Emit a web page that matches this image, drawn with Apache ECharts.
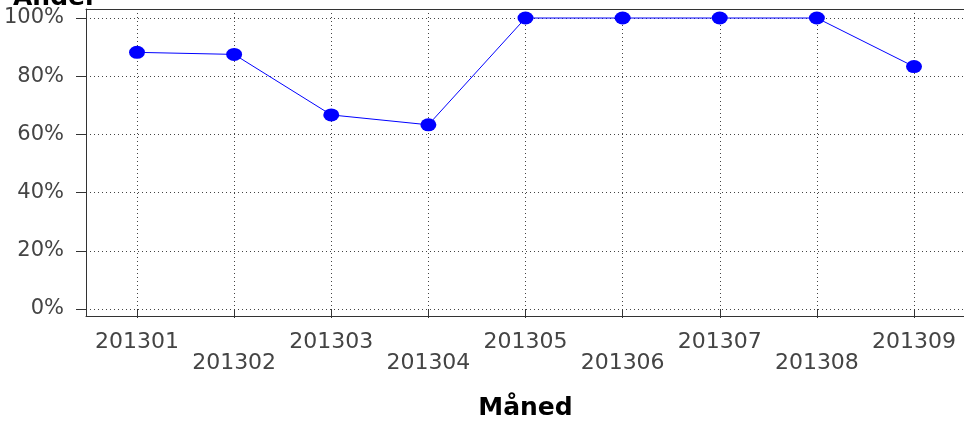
<!DOCTYPE html>
<html>
<head>
    <meta charset="utf-8">
    <title>Andel per måned</title>
    <script src="https://cdn.jsdelivr.net/npm/echarts@6/dist/echarts.min.js"></script>
    <style>
        html, body { margin: 0; padding: 0; background: #fff; overflow: hidden; }
    </style>
</head>
<body>
<div id="container" style="width: 964px;height: 428px;"></div>

<script type="text/javascript">
    // måneder
    var months = ['201301', '201302', '201303', '201304', '201305', '201306', '201307', '201308', '201309'];
    // andel i prosent
    var shares = [88.2, 87.5, 66.7, 63.3, 100, 100, 100, 100, 83.3];
    // y-akse
    var yMin = 0;
    var yMax = 100;
    var yStep = 20;

    var font = 'DejaVu Sans';
    var dotted = { color: '#444', width: 1, type: [1, 3] };
    var frameLine = { show: true, lineStyle: { color: '#333', width: 1 } };

    var myChart = echarts.init(document.getElementById('container'));

    var option = {
        animation: false,
        // y-aksens tittel, delvis utenfor bildet som i originalen
        graphic: [
            {
                type: 'text',
                x: 13,
                y: 11,
                style: {
                    text: 'Andel',
                    font: 'bold 25px "DejaVu Sans"',
                    fill: '#000',
                    align: 'left',
                    verticalAlign: 'bottom'
                }
            }
        ],
        grid: [
            // data
            { left: 137, right: 50, top: 9, bottom: 112, outerBoundsMode: 'none' },
            // y-akse og horisontale linjer
            { left: 86, right: 0, top: 18, bottom: 119, outerBoundsMode: 'none' },
            // ramme (ingen høyre kant)
            { left: 86, right: 0, top: 9, bottom: 112, outerBoundsMode: 'none' }
        ],
        xAxis: [
            {
                gridIndex: 0,
                type: 'category',
                data: months,
                boundaryGap: false,
                name: 'Måned',
                nameLocation: 'middle',
                nameGap: 80,
                nameTextStyle: { fontFamily: font, fontSize: 25, fontWeight: 'bold', color: '#000' },
                axisLine: { show: false },
                axisTick: { show: true, length: 9, lineStyle: { color: '#333' } },
                axisLabel: {
                    interval: 0,
                    margin: 16,
                    fontFamily: font,
                    fontSize: 22,
                    lineHeight: 21,
                    color: '#444',
                    formatter: function (v, i) {
                        return i % 2 ? '\n' + v : v;
                    }
                },
                splitLine: { show: true, lineStyle: dotted }
            },
            { gridIndex: 1, type: 'value', show: false },
            {
                gridIndex: 2, type: 'value', position: 'bottom',
                axisLine: frameLine, axisTick: { show: false }, axisLabel: { show: false }, splitLine: { show: false }
            },
            {
                gridIndex: 2, type: 'value', position: 'top',
                axisLine: frameLine, axisTick: { show: false }, axisLabel: { show: false }, splitLine: { show: false }
            }
        ],
        yAxis: [
            {
                gridIndex: 0,
                type: 'value',
                show: false,
                min: -2.41,
                max: 103.1
            },
            {
                gridIndex: 1,
                type: 'value',
                min: yMin,
                max: yMax,
                interval: yStep,
                axisLine: { show: false },
                axisTick: { show: true, length: 10, lineStyle: { color: '#333' } },
                axisLabel: {
                    margin: 22,
                    fontFamily: font,
                    fontSize: 21,
                    color: '#444',
                    formatter: '{value}%'
                },
                splitLine: { show: true, lineStyle: dotted }
            },
            {
                gridIndex: 2, type: 'value', position: 'left',
                axisLine: frameLine, axisTick: { show: false }, axisLabel: { show: false }, splitLine: { show: false }
            }
        ],
        series: [
            {
                type: 'line',
                xAxisIndex: 0,
                yAxisIndex: 0,
                data: shares,
                symbol: 'circle',
                symbolSize: [16, 13],
                lineStyle: { color: '#0000ff', width: 1 },
                itemStyle: { color: '#0000ff' }
            }
        ]
    };

    myChart.setOption(option);
</script>
</body>
</html>
